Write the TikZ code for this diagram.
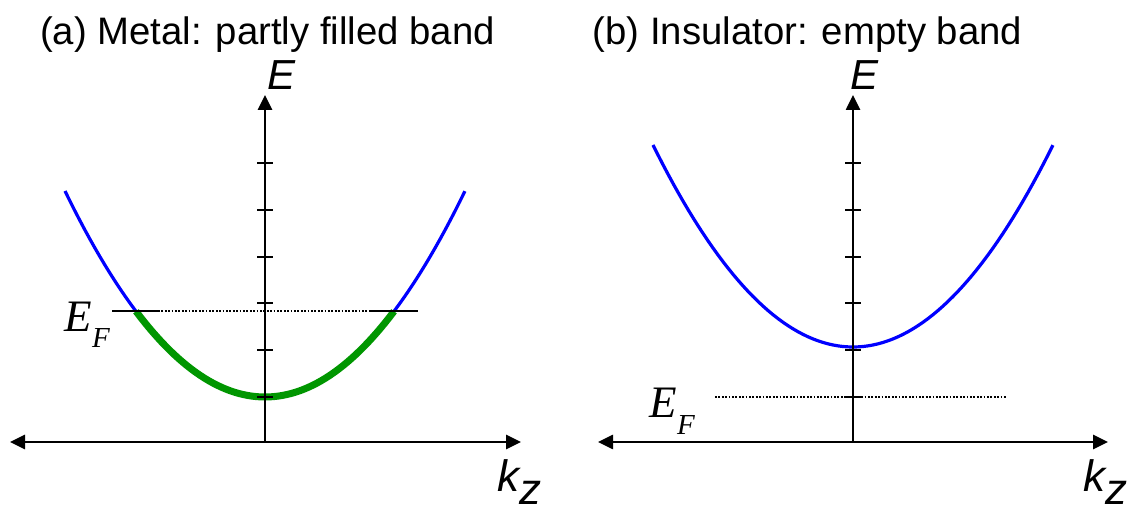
\documentclass[tikz,border=0pt]{standalone}
\usepackage{fontspec}
\setmainfont{Liberation Sans}
\newfontfamily\tnr{Liberation Serif}
\usetikzlibrary{arrows.meta}
\definecolor{bandblue}{RGB}{0,0,255}
\definecolor{fillgreen}{RGB}{0,150,0}
\begin{document}
\begin{tikzpicture}[x=1pt,y=-1pt,
  axisline/.style={line width=2.6pt,-{Triangle[length=15pt,width=14pt]}},
  axisboth/.style={line width=2.6pt,{Triangle[length=15pt,width=14pt]}-{Triangle[length=15pt,width=14pt]}},
  tickmark/.style={line width=2.2pt},
  band/.style={draw=bandblue,line width=3.2pt},
  filled/.style={draw=fillgreen,line width=7pt},
  fermi/.style={line width=1.7pt,dash pattern=on 1.7pt off 1.7pt},
  fermisolid/.style={line width=2pt},
  lbl/.style={inner sep=0pt,anchor=base west},
  title/.style={inner sep=0pt,anchor=base,font=\fontsize{38.3}{40}\selectfont},
  efl/.style={inner sep=0pt,anchor=base west,font=\tnr\itshape\fontsize{45}{45}\selectfont},
  efsub/.style={inner sep=0pt,anchor=base west,font=\tnr\itshape\fontsize{29}{29}\selectfont},
]
\useasboundingbox (0,0) rectangle (1128,510);

% ---------- titles
\node[title] (ta) at (267.5,45) {(a) Metal: partly filled band};
\node[title] (tb) at (807.5,45) {(b) Insulator: empty band};

% ---------- panel (a)
\coordinate (a0) at (265,442);
\coordinate (atop) at (265,95);
\coordinate (aleft) at (10,442);
\coordinate (aright) at (521,442);
\draw[band] plot[domain=-2:2,samples=81] ({265+100*\x},{397-51.5*(\x)*(\x)});
\draw[filled] plot[domain=-1.29:1.29,samples=61] ({265+100*\x},{397-51.5*(\x)*(\x)});
\draw[axisline] (a0) -- (atop);
\draw[axisboth] (aleft) -- (aright);
\foreach \y in {163.3,210,256.7,303.3,350,396.7}
  \draw[tickmark] (257,\y) -- (273,\y);
\coordinate (fa1) at (112,311);
\coordinate (fa2) at (158,311);
\coordinate (fa3) at (370,311);
\coordinate (fa4) at (418,311);
\draw[fermisolid] (fa1) -- (fa2);
\draw[fermi] (fa2) -- (fa3);
\draw[fermisolid] (fa3) -- (fa4);
\node[lbl] (Ea) at (267,90) {\fontsize{42}{42}\selectfont\itshape E};
\node[lbl] (ka) at (497,492) {\fontsize{44}{44}\selectfont\itshape k\raisebox{-13pt}{z}};
\node[efl] (EFa) at (64,332) {E};
\node[efsub] (EFaF) at (EFa.base east) [yshift=-16pt] {F};

% ---------- panel (b)
\coordinate (b0) at (853,442);
\coordinate (btop) at (853,95);
\coordinate (bleft) at (598,442);
\coordinate (bright) at (1108,442);
\draw[band] plot[domain=-2:2,samples=81] ({853+100*\x},{347-50.5*(\x)*(\x)});
\draw[axisline] (b0) -- (btop);
\draw[axisboth] (bleft) -- (bright);
\foreach \y in {163.3,210,256.7,303.3,350,396.7}
  \draw[tickmark] (845,\y) -- (861,\y);
\coordinate (fb1) at (715,396.7);
\coordinate (fb2) at (1007,396.7);
\draw[fermi] (fb1) -- (fb2);
\node[lbl] (Eb) at (850,90) {\fontsize{42}{42}\selectfont\itshape E};
\node[lbl] (kb) at (1083,492) {\fontsize{44}{44}\selectfont\itshape k\raisebox{-13pt}{z}};
\node[efl] (EFb) at (649,418) {E};
\node[efsub] (EFbF) at (EFb.base east) [yshift=-17pt] {F};
\end{tikzpicture}
\end{document}
